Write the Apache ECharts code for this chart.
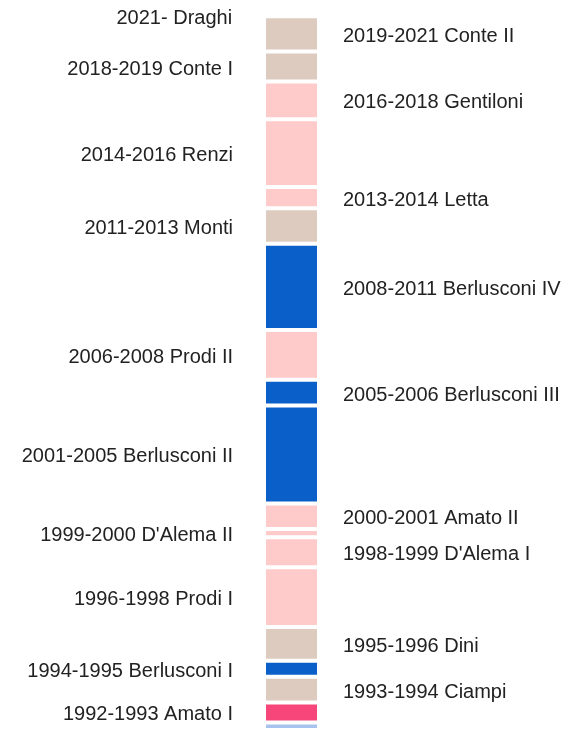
<!DOCTYPE html>
<html>
<head>
<meta charset="utf-8">
<script src="https://cdn.jsdelivr.net/npm/echarts@6/dist/echarts.min.js"></script>
<style>
html,body{margin:0;padding:0;background:#fff;overflow:hidden;}
#chart{width:570px;height:729px;}
</style>
</head>
<body>
<div id="chart"></div>
<script>
// Governments from oldest (bottom) to newest (top)
const governments = [
  "1991-1992 Andreotti VII",
  "1992-1993 Amato I",
  "1993-1994 Ciampi",
  "1994-1995 Berlusconi I",
  "1995-1996 Dini",
  "1996-1998 Prodi I",
  "1998-1999 D'Alema I",
  "1999-2000 D'Alema II",
  "2000-2001 Amato II",
  "2001-2005 Berlusconi II",
  "2005-2006 Berlusconi III",
  "2006-2008 Prodi II",
  "2008-2011 Berlusconi IV",
  "2011-2013 Monti",
  "2013-2014 Letta",
  "2014-2016 Renzi",
  "2016-2018 Gentiloni",
  "2018-2019 Conte I",
  "2019-2021 Conte II",
  "2021- Draghi"
];
// Duration of each government in months
const durations = [14.2, 9.7, 12.6, 7.8, 16.4, 29.1, 14.6, 4.0, 12.5, 47.7, 12.5, 24.3, 42.0, 17.2, 10.4, 33.0, 18.4, 14.6, 17.2, 0.1];
// Political area of each government
const areas = ["dc", "psi", "tech", "right", "tech", "left", "left", "left", "left", "right", "right", "left", "right", "tech", "left", "left", "left", "tech", "tech", "tech"];
// Label side of each government ("" = not shown)
const sides = ["", "left", "right", "left", "right", "left", "right", "left", "right", "left", "right", "left", "right", "left", "right", "left", "right", "left", "right", "left"];

const areaColors = {
  dc: "#a9c3ef",
  psi: "#f6467a",
  tech: "#ddcbc0",
  left: "#ffcaca",
  right: "#0a60c8"
};

const yMin = 11.0;
const yMax = 358.3;

const series = governments.map((name, i) => ({
  name: name,
  type: "bar",
  stack: "gov",
  barWidth: "100%",
  data: [durations[i]],
  itemStyle: { color: areaColors[areas[i]], borderColor: "#ffffff", borderWidth: 2 },
  label: {
    show: sides[i] !== "",
    position: sides[i] || "inside",
    distance: sides[i] === "left" ? 31 : 24,
    offset: [0, 2.5],
    formatter: name,
    color: "#222222",
    fontFamily: "Liberation Sans, Arial, sans-serif",
    fontSize: 20
  },
  emphasis: { disabled: true },
  animation: false
}));

const chart = echarts.init(document.getElementById("chart"), null, { renderer: "canvas" });
chart.setOption({
  backgroundColor: "#ffffff",
  animation: false,
  grid: { left: 264, right: 251, top: 16, bottom: 0 },
  xAxis: { type: "category", data: ["Governi"], show: false },
  yAxis: { type: "value", min: yMin, max: yMax, show: false },
  series: series
});
</script>
</body>
</html>
